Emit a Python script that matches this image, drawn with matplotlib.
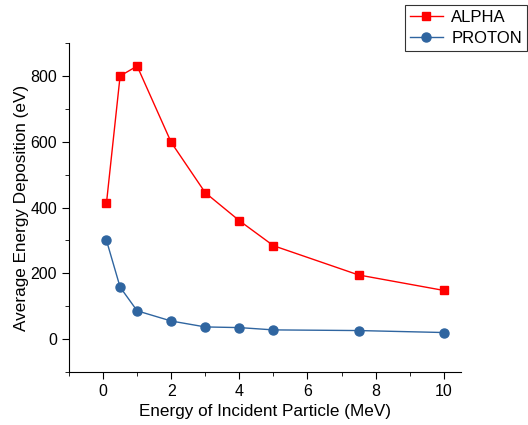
import matplotlib.pyplot as plt
from matplotlib.ticker import MultipleLocator

energy = [0.1, 0.5, 1, 2, 3, 4, 5, 7.5, 10]
alpha = [414, 800, 830, 598, 445, 360, 284, 195, 148]
proton = [300, 158, 86, 55, 37, 35, 28, 26, 20]

plt.rcParams['font.family'] = ['Liberation Sans', 'DejaVu Sans']

fig = plt.figure(figsize=(5.28, 4.25), dpi=100)
ax = fig.add_axes([0.1307, 0.1247, 0.742, 0.774])

ax.plot(energy, alpha, color='#ff0000', marker='s', markersize=6, linewidth=1, label='ALPHA')
ax.plot(energy, proton, color='#2f65a0', marker='o', markersize=6.5, linewidth=1, label='PROTON')

ax.set_xlim(-1, 10.5)
ax.set_ylim(-100, 900)
ax.xaxis.set_major_locator(MultipleLocator(2))
ax.xaxis.set_minor_locator(MultipleLocator(1))
ax.yaxis.set_major_locator(MultipleLocator(200))
ax.yaxis.set_minor_locator(MultipleLocator(100))
ax.tick_params(which='major', direction='out', length=5, labelsize=11.5)
ax.tick_params(which='minor', direction='out', length=3)
for s in ['top', 'right']:
    ax.spines[s].set_visible(False)

ax.set_xlabel('Energy of Incident Particle (MeV)', fontsize=12.3)
ax.set_ylabel('Average Energy Deposition (eV)', fontsize=12.3, labelpad=1)

# legend sits outside the axes, in the top-right corner of the figure
leg = ax.legend(loc='upper right', bbox_to_anchor=(0.998, 0.988), bbox_transform=fig.transFigure,
                borderaxespad=0, fontsize=12, frameon=True, fancybox=False, edgecolor='black',
                handlelength=2.0, borderpad=0.3, labelspacing=0.35, handletextpad=0.5)
leg.get_frame().set_linewidth(0.8)

fig.savefig('out.png', dpi=100)
